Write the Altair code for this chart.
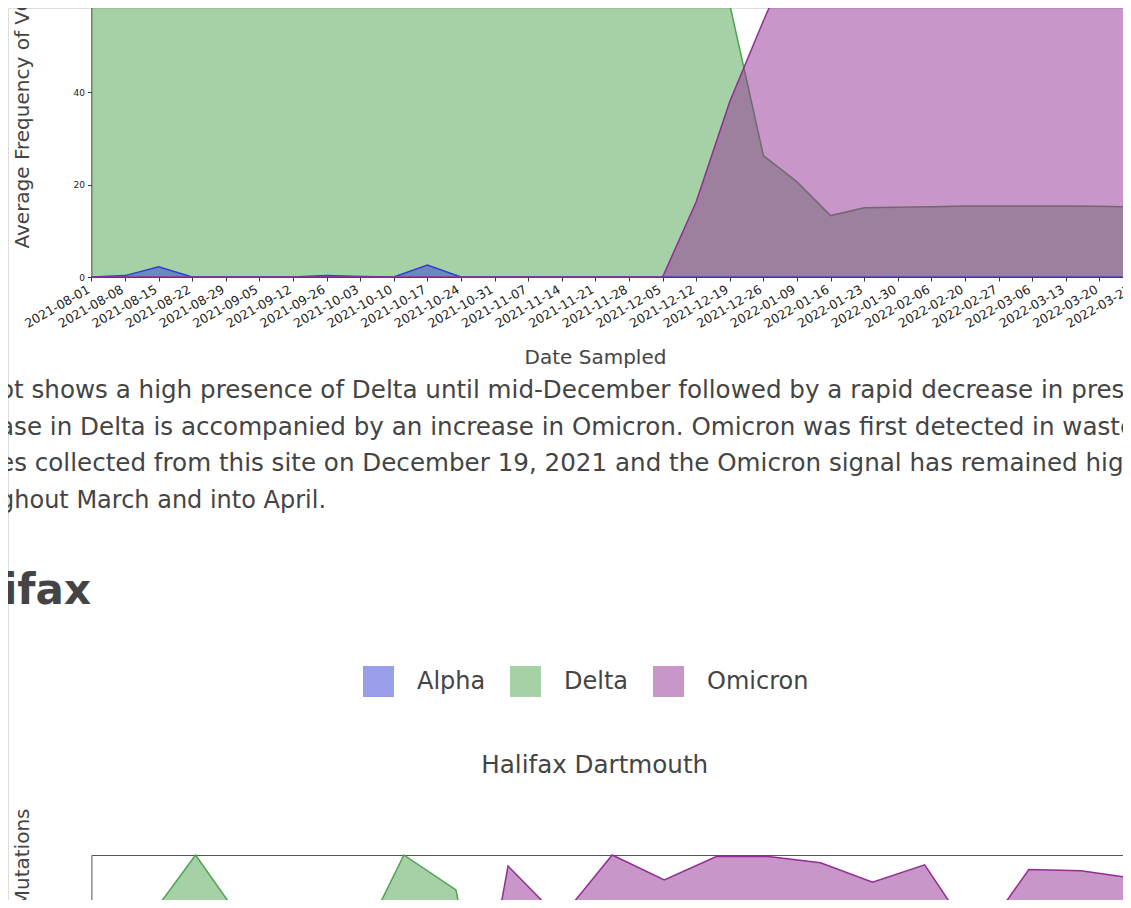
import altair as alt
import pandas as pd

# ---------------- data ----------------
top_dates = ["2021-08-01", "2021-08-08", "2021-08-15", "2021-08-22", "2021-08-29",
             "2021-09-05", "2021-09-12", "2021-09-26", "2021-10-03", "2021-10-10",
             "2021-10-17", "2021-10-24", "2021-10-31", "2021-11-07", "2021-11-14",
             "2021-11-21", "2021-11-28", "2021-12-05", "2021-12-12", "2021-12-19",
             "2021-12-26", "2022-01-09", "2022-01-16", "2022-01-23", "2022-01-30",
             "2022-02-06", "2022-02-20", "2022-02-27", "2022-03-06", "2022-03-13",
             "2022-03-20", "2022-03-27"]
top_alpha = [0, 0.3, 2.2, 0, 0, 0, 0, 0.3, 0.1, 0, 2.6, 0, 0, 0, 0, 0,
             0, 0, 0, 0, 0, 0, 0, 0, 0, 0, 0, 0, 0, 0, 0, 0]
top_delta = [99, 98, 96, 99, 99, 98, 99, 98, 99, 99, 96, 99, 99, 98, 99, 99,
             98, 97, 83, 59, 26.3, 20.6, 13.3, 15.0, 15.1, 15.2, 15.4, 15.4,
             15.4, 15.4, 15.3, 15.2]
top_omicron = [0, 0, 0, 0, 0, 0, 0, 0, 0, 0, 0, 0, 0, 0, 0, 0,
               0, 0, 16.3, 38.0, 55.5, 72, 86, 85, 84.5, 84.5, 84.5, 84.5,
               84.5, 84.5, 84.5, 84.5]

hfx_dates = ["2021-09-05", "2021-09-12", "2021-09-19", "2021-09-26", "2021-10-03",
             "2021-10-10", "2021-10-17", "2021-10-24", "2021-12-12", "2021-12-19",
             "2021-12-26", "2022-01-02", "2022-01-09", "2022-01-16", "2022-01-23",
             "2022-01-30", "2022-02-06", "2022-02-13", "2022-02-20", "2022-02-27",
             "2022-03-06"]
hfx_alpha = [3, 0, 0, 2, 0, 0, 0, 0, 0, 0, 0, 0, 0, 0, 0, 0, 0, 0, 0, 0, 0]
hfx_delta = [60, 76.2, 100, 75.2, 70, 64.4, 100, 88.3, 0, 0, 0, 0, 0, 0, 0,
             0, 0, 0, 0, 0, 0]
hfx_omicron = [0, 0, 0, 0, 0, 0, 0, 0, 96.3, 78.5, 100, 91.6, 99.5, 99.5,
               97.4, 90.9, 96.7, 70.5, 95.1, 94.7, 92.2]

series_names = ["Alpha", "Delta", "Omicron"]
series_colors = ["#353dd1", "#4da34f", "#932d95"]

# justified paragraph: the first three lines are stretched, the last one is not
para_lines_full = [
    "ot shows a high presence of Delta until mid-December followed by a rapid decrease in presence.",
    "ase in Delta is accompanied by an increase in Omicron. Omicron was first detected in wastewater",
    "es collected from this site on December 19, 2021 and the Omicron signal has remained high",
]
para_last_line = "ghout March and into April."
heading_text = "Halifax"
subtitle_text = "Halifax Dartmouth"
y_title = "Average Frequency of VOC Mutations"
x_title = "Date Sampled"

FONT = "DejaVu Sans"
W, H = 1115, 892


def long_df(dates, a, d, o):
    return pd.DataFrame({
        "date": dates * 3,
        "series": ["Alpha"] * len(dates) + ["Delta"] * len(dates) + ["Omicron"] * len(dates),
        "value": list(a) + list(d) + list(o),
    })


top_df = long_df(top_dates, top_alpha, top_delta, top_omicron)
hfx_df = long_df(hfx_dates, hfx_alpha, hfx_delta, hfx_omicron)

legend = alt.Legend(orient="none", legendX=355, legendY=658, direction="horizontal",
                    title=None, symbolType="square", symbolSize=961, symbolOpacity=0.5,
                    symbolStrokeWidth=0, labelFontSize=24, labelColor="#444",
                    labelFont=FONT, labelOffset=23, columnPadding=24, padding=0)
color_enc = alt.Color("series:N", scale=alt.Scale(domain=series_names, range=series_colors),
                      legend=legend)


def series_layers(df, x_enc, y_enc):
    layers = []
    for name in ["Delta", "Alpha", "Omicron"]:
        base = alt.Chart(df).transform_filter(alt.datum.series == name)
        layers.append(base.mark_area(opacity=0.5).encode(x=x_enc, y=y_enc, color=color_enc))
        layers.append(base.mark_line(strokeWidth=1.5).encode(x=x_enc, y=y_enc, color=color_enc))
    return layers


# ---------------- top chart ----------------
top_x = alt.X("date:O", sort=top_dates,
              scale=alt.Scale(type="point", range=[83.4, 1125.0], padding=0),
              axis=alt.Axis(orient="bottom", offset=269 - H, labelAngle=-30, labelAlign="right",
                            labelBaseline="middle", labelFontSize=12.5, labelColor="#222",
                            labelFont=FONT, labelOverlap=False, labelPadding=7, labelOffset=-3,
                            tickSize=4, domainColor="#333", tickColor="#333", grid=False,
                            title=x_title, titleFontSize=20, titleColor="#444",
                            titleFont=FONT, titleFontWeight="normal", titleX=587, titleY=86,
                            titleAlign="center", titleBaseline="alphabetic"))
top_y = alt.Y("value:Q",
              scale=alt.Scale(domain=[0, 100], range=[269, -192.7], nice=False, zero=True),
              axis=alt.Axis(orient="left", offset=-83.4, values=[0, 20, 40, 60, 80, 100],
                            labelFontSize=9, labelColor="#222", labelFont=FONT, labelPadding=3,
                            tickSize=4, domainColor="#333", tickColor="#333", grid=False,
                            title=y_title, titleFontSize=20, titleColor="#444", titleFont=FONT,
                            titleFontWeight="normal", titleAngle=-90, titleAlign="left",
                            titleBaseline="alphabetic", titleX=-62.8, titleY=240))
top_group = alt.layer(*series_layers(top_df, top_x, top_y))

# ---------------- bottom chart (Halifax Dartmouth) ----------------
hfx_x = alt.X("date:O", sort=hfx_dates,
              scale=alt.Scale(type="point", range=[83.4, 1125.0], padding=0),
              axis=alt.Axis(orient="top", offset=-847, labels=False, ticks=False,
                            domainColor="#555", grid=False, title=None))
hfx_y = alt.Y("value:Q",
              scale=alt.Scale(domain=[0, 100], range=[1145, 847], nice=False),
              axis=alt.Axis(orient="left", offset=-83.4, labels=False, ticks=False,
                            domainColor="#555", grid=False,
                            title=y_title, titleFontSize=20, titleColor="#444", titleFont=FONT,
                            titleFontWeight="normal", titleAngle=-90, titleAlign="right",
                            titleBaseline="alphabetic", titleX=-63.1, titleY=800))
bottom_group = alt.layer(*series_layers(hfx_df, hfx_x, hfx_y))

# ---------------- page texts ----------------
para = alt.Chart(pd.DataFrame({"t": ["\n".join(para_lines_full)]})).mark_text(
    align="left", baseline="alphabetic", fontSize=24.6, font=FONT, color="#444",
    lineBreak="\n", lineHeight=36.5
).encode(text="t:N", x=alt.value(-9), y=alt.value(390.3))

para_last = alt.Chart(pd.DataFrame({"t": [para_last_line]})).mark_text(
    align="left", baseline="alphabetic", fontSize=24, font=FONT, color="#444"
).encode(text="t:N", x=alt.value(-9), y=alt.value(499.7))

heading = alt.Chart(pd.DataFrame({"t": [heading_text]})).mark_text(
    align="right", baseline="alphabetic", fontSize=42, fontWeight="bold", font=FONT,
    color="#444"
).encode(text="t:N", x=alt.value(83), y=alt.value(596.3))

subtitle = alt.Chart(pd.DataFrame({"t": [subtitle_text]})).mark_text(
    align="center", baseline="alphabetic", fontSize=24.6, font=FONT, color="#444"
).encode(text="t:N", x=alt.value(586.7), y=alt.value(765))

chart = alt.layer(top_group, bottom_group, para, para_last, heading, subtitle).resolve_scale(
    x="independent", y="independent"
).properties(
    width=W, height=H, padding=0, background="white",
    autosize=alt.AutoSizeParams(type="none")
).configure_view(stroke=None).configure(font=FONT)

chart.save("out.html", embed_options={"renderer": "svg", "actions": False})
